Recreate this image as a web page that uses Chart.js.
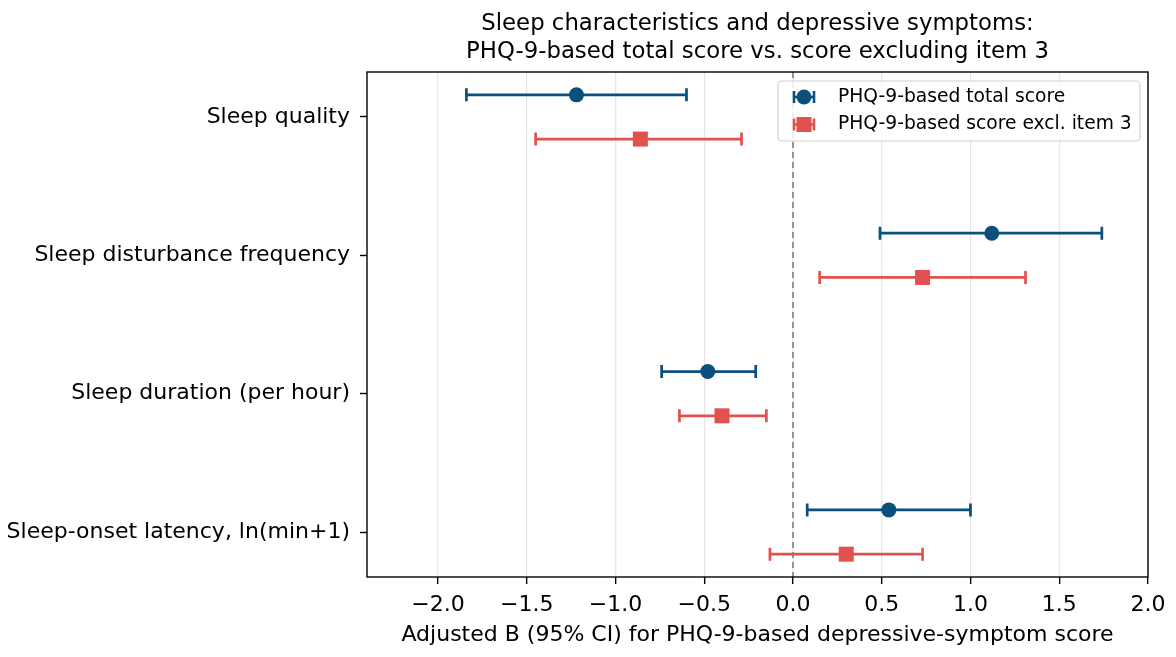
<!DOCTYPE html>
<html>
<head>
<meta charset="utf-8">
<script src="https://cdn.jsdelivr.net/npm/chart.js@4.4.1/dist/chart.umd.min.js"></script>
<style>
  html, body { margin: 0; padding: 0; background: #fff; }
  #wrap { width: 1176px; height: 657px; position: relative; }
</style>
</head>
<body>
<div id="wrap"><canvas id="forestChart"></canvas></div>
<script>
// Categories (top to bottom)
const categories = [
    'Sleep quality',
    'Sleep disturbance frequency',
    'Sleep duration (per hour)',
    'Sleep-onset latency, ln(min+1)'
];

// PHQ-9-based total score
const totalB  = [-1.22, 1.12, -0.48, 0.54];
const totalLo = [-1.84, 0.49, -0.74, 0.08];
const totalHi = [-0.60, 1.74, -0.21, 1.00];

// PHQ-9-based score excluding item 3
const exclB  = [-0.86, 0.73, -0.40, 0.30];
const exclLo = [-1.45, 0.15, -0.64, -0.13];
const exclHi = [-0.29, 1.31, -0.15, 0.73];

// x-axis tick values
const xTicks = [-2.0, -1.5, -1.0, -0.5, 0.0, 0.5, 1.0, 1.5, 2.0];

const seriesLabels = ['PHQ-9-based total score', 'PHQ-9-based score excl. item 3'];
const BLUE = '#0b4f7c';
const RED = '#e0514f';
const FONT = "'DejaVu Sans', sans-serif";
const rowOffset = 0.16;

function buildPoints(b, lo, hi, shift) {
    return b.map((v, i) => ({ x: v, y: i + shift, lo: lo[i], hi: hi[i] }));
}

function fmtTick(v) {
    const s = Math.abs(v).toFixed(1);
    return v < 0 ? '\u2212' + s : s;
}

// zero line, error bars, frame and legend
const forestPlugin = {
    id: 'forestPlugin',
    beforeDatasetsDraw(chart) {
        const { ctx, chartArea: a, scales: { x, y } } = chart;
        ctx.save();
        const x0 = x.getPixelForValue(0);
        ctx.strokeStyle = '#8a8a8a';
        ctx.lineWidth = 1.8;
        ctx.setLineDash([6, 4]);
        ctx.beginPath();
        ctx.moveTo(x0, a.top);
        ctx.lineTo(x0, a.bottom);
        ctx.stroke();
        ctx.setLineDash([]);

        chart.data.datasets.forEach(ds => {
            ctx.strokeStyle = ds.borderColor;
            ctx.lineWidth = 2.7;
            ds.data.forEach(p => {
                const py = y.getPixelForValue(p.y);
                const l = x.getPixelForValue(p.lo);
                const r = x.getPixelForValue(p.hi);
                ctx.beginPath();
                ctx.moveTo(l, py); ctx.lineTo(r, py);
                ctx.moveTo(l, py - 6.5); ctx.lineTo(l, py + 6.5);
                ctx.moveTo(r, py - 6.5); ctx.lineTo(r, py + 6.5);
                ctx.stroke();
            });
        });
        ctx.restore();
    },
    afterDraw(chart) {
        const { ctx, chartArea: a } = chart;
        ctx.save();
        // axes frame
        ctx.strokeStyle = '#000';
        ctx.lineWidth = 1.4;
        ctx.strokeRect(a.left, a.top, a.right - a.left, a.bottom - a.top);

        // legend box, upper right
        const bw = 362, bh = 60;
        const bx = a.right - 8 - bw, by = a.top + 9;
        ctx.fillStyle = 'rgba(255,255,255,0.85)';
        ctx.strokeStyle = '#d0d0d0';
        ctx.lineWidth = 1.2;
        ctx.beginPath();
        ctx.roundRect(bx, by, bw, bh, 4);
        ctx.fill();
        ctx.stroke();

        ctx.font = '18.7px ' + FONT;
        ctx.textBaseline = 'middle';
        ctx.textAlign = 'left';
        chart.data.datasets.forEach((ds, i) => {
            const cy = by + 16 + i * 27.5;
            const cx = bx + 26;
            ctx.strokeStyle = ds.borderColor;
            ctx.fillStyle = ds.backgroundColor;
            ctx.lineWidth = 2.6;
            ctx.beginPath();
            ctx.moveTo(cx - 10, cy); ctx.lineTo(cx + 10, cy);
            ctx.moveTo(cx - 10, cy - 6); ctx.lineTo(cx - 10, cy + 6);
            ctx.moveTo(cx + 10, cy - 6); ctx.lineTo(cx + 10, cy + 6);
            ctx.stroke();
            ctx.beginPath();
            if (ds.pointStyle === 'rect') {
                ctx.rect(cx - 7.5, cy - 7.5, 15, 15);
            } else {
                ctx.arc(cx, cy, 7.5, 0, Math.PI * 2);
            }
            ctx.fill();
            ctx.fillStyle = '#000';
            ctx.fillText(ds.label, bx + 60, cy);
        });
        ctx.restore();
    }
};

const ctx = document.getElementById('forestChart').getContext('2d');

new Chart(ctx, {
    type: 'scatter',
    data: {
        datasets: [{
            label: seriesLabels[0],
            data: buildPoints(totalB, totalLo, totalHi, -rowOffset),
            borderColor: BLUE,
            backgroundColor: BLUE,
            pointStyle: 'circle',
            pointRadius: 7.5,
            pointHoverRadius: 7.5,
            borderWidth: 0
        }, {
            label: seriesLabels[1],
            data: buildPoints(exclB, exclLo, exclHi, rowOffset),
            borderColor: RED,
            backgroundColor: RED,
            pointStyle: 'rect',
            pointRadius: 10.6,
            pointHoverRadius: 10.6,
            borderWidth: 0
        }]
    },
    options: {
        responsive: true,
        maintainAspectRatio: false,
        animation: false,
        events: [],
        layout: { padding: { left: 0, right: 28, top: 0, bottom: 0 } },
        plugins: {
            legend: { display: false },
            tooltip: { enabled: false },
            title: {
                display: true,
                fullSize: false,
                text: ['Sleep characteristics and depressive symptoms:',
                       'PHQ-9-based total score vs. score excluding item 3'],
                color: '#000',
                font: { family: FONT, size: 22.8, weight: 'normal', lineHeight: 1.228 },
                padding: { top: 10, bottom: 6 }
            }
        },
        scales: {
            x: {
                type: 'linear',
                min: -2.4,
                max: 2.0,
                afterBuildTicks: scale => { scale.ticks = xTicks.map(v => ({ value: v })); },
                afterFit: scale => { scale.height = 80; },
                border: { display: false },
                grid: {
                    color: '#e6e6e6',
                    lineWidth: 1.3,
                    tickColor: '#000',
                    tickLength: 7,
                    tickWidth: 1.4
                },
                ticks: {
                    color: '#000',
                    font: { family: FONT, size: 22 },
                    padding: 8,
                    maxRotation: 0,
                    callback: v => fmtTick(v)
                },
                title: {
                    display: true,
                    text: 'Adjusted B (95% CI) for PHQ-9-based depressive-symptom score',
                    color: '#000',
                    font: { family: FONT, size: 22 },
                    padding: { top: 4, bottom: 9 }
                }
            },
            y: {
                type: 'linear',
                reverse: true,
                min: -0.325,
                max: 3.325,
                afterBuildTicks: scale => { scale.ticks = categories.map((c, i) => ({ value: i })); },
                afterFit: scale => { scale.width = 367; },
                border: { display: false },
                grid: {
                    drawOnChartArea: false,
                    tickColor: '#000',
                    tickLength: 7,
                    tickWidth: 1.4
                },
                ticks: {
                    color: '#000',
                    font: { family: FONT, size: 22 },
                    padding: 10,
                    callback: v => categories[v]
                }
            }
        }
    },
    plugins: [forestPlugin]
});
</script>
</body>
</html>
